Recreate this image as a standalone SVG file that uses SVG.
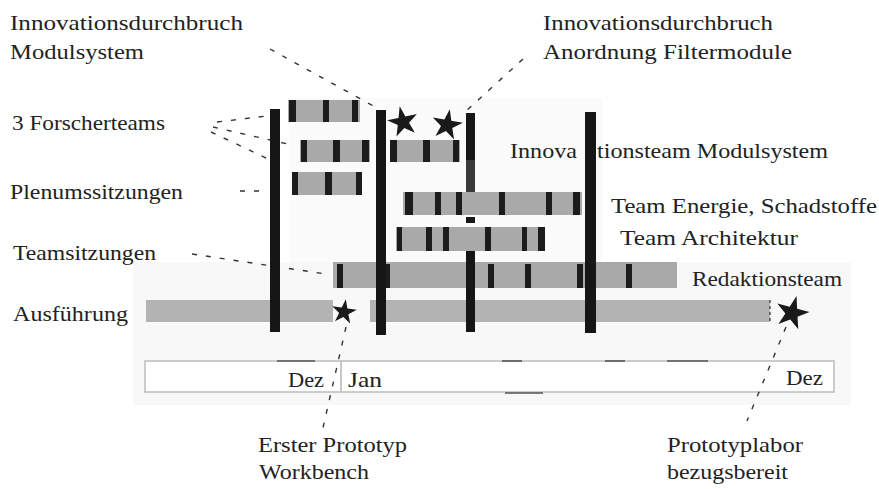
<svg xmlns="http://www.w3.org/2000/svg" xmlns:xlink="http://www.w3.org/1999/xlink" width="879" height="489" viewBox="0 0 879 489">
<style>
  text { font-family: "Liberation Serif", "Times New Roman", serif; font-size: 22px; fill: #222; }
  .row { fill: #a9a9a9; }
  .exec { fill: #b3b3b3; }
  .tick { fill: #1c1c1c; }
  .bar { fill: #161616; }
  .lead { stroke: #333; stroke-width: 1.4; stroke-dasharray: 5 9; fill: none; }
  .star { fill: #1a1a1a; }
  .panel { fill: #f8f8f8; }
  .box { fill: #fff; stroke: #bcbcbc; stroke-width: 1.5; }
  .seg { stroke: #555; stroke-width: 1.6; }
</style>
<defs>
  <polygon id="star" points="0,-10 2.2,-3.1 9.51,-3.09 3.6,1.2 5.88,8.09 0,3.8 -5.88,8.09 -3.6,1.2 -9.51,-3.09 -2.2,-3.1"/>
</defs>
<rect width="879" height="489" fill="#fff"/>
<g id="background">
  <rect x="290" y="98" width="313" height="164" fill="#fbfbfb"/>
  <rect class="panel" x="133" y="262" width="718" height="143"/>
</g>
<g id="timeline">
  <rect class="box" x="145" y="361" width="689" height="31"/>
  <line x1="341" y1="361" x2="341" y2="392" stroke="#c8c8c8" stroke-width="2"/>
  <line class="seg" x1="277" y1="361" x2="315" y2="361"/>
  <line class="seg" x1="502" y1="361" x2="522" y2="361"/>
  <line class="seg" x1="605" y1="361" x2="625" y2="361"/>
  <line class="seg" x1="667" y1="361" x2="708" y2="361"/>
  <line class="seg" x1="505" y1="393" x2="543" y2="393"/>
  <text x="288" y="387" textLength="36" lengthAdjust="spacingAndGlyphs">Dez</text>
  <text x="348" y="387" textLength="34" lengthAdjust="spacingAndGlyphs">Jan</text>
  <text x="786" y="385" textLength="37" lengthAdjust="spacingAndGlyphs">Dez</text>
</g>
<g id="connectors">
  <line class="lead" x1="270" y1="49" x2="377" y2="108"/>
  <line class="lead" x1="523" y1="59" x2="465" y2="112"/>
  <line class="lead" x1="217" y1="122" x2="267" y2="116"/>
  <line class="lead" x1="213" y1="127" x2="292" y2="145"/>
  <line class="lead" x1="211" y1="132" x2="268" y2="159"/>
  <line class="lead" x1="240" y1="191" x2="263" y2="191"/>
  <line class="lead" x1="192" y1="254" x2="326" y2="274"/>
  <line class="lead" x1="346" y1="327" x2="322" y2="432"/>
  <line class="lead" x1="786" y1="327" x2="747" y2="421"/>
</g>
<g id="milestone-bars-back">
  <rect class="bar" x="466" y="113" width="9" height="48"/>
  <rect x="466" y="160" width="9" height="32" fill="#3a3a3a"/>
</g>
<g id="row-forscher-1">
  <rect class="row" x="288" y="100" width="72" height="22"/>
  <rect class="tick" x="289" y="100" width="7" height="22"/>
  <rect class="tick" x="323" y="100" width="6" height="22"/>
  <rect class="tick" x="352" y="100" width="6" height="22"/>
</g>
<g id="row-forscher-2">
  <rect class="row" x="300" y="140" width="70" height="22"/>
  <rect class="tick" x="301" y="140" width="6" height="22"/>
  <rect class="tick" x="333" y="140" width="7" height="22"/>
  <rect class="tick" x="362" y="140" width="7" height="22"/>
</g>
<g id="row-innovationsteam">
  <rect class="row" x="390" y="140" width="70" height="22"/>
  <rect class="tick" x="390" y="140" width="7" height="22"/>
  <rect class="tick" x="423" y="140" width="7" height="22"/>
  <rect class="tick" x="453" y="140" width="6" height="22"/>
</g>
<g id="row-forscher-3">
  <rect class="row" x="292" y="172" width="70" height="23"/>
  <rect class="tick" x="292" y="172" width="6" height="23"/>
  <rect class="tick" x="325" y="172" width="7" height="23"/>
  <rect class="tick" x="356" y="172" width="6" height="23"/>
</g>
<g id="row-energie">
  <rect class="row" x="403" y="192" width="179" height="23"/>
  <rect class="tick" x="405" y="192" width="8" height="23"/>
  <rect class="tick" x="435" y="192" width="6" height="23"/>
  <rect class="tick" x="456" y="192" width="6" height="23"/>
  <rect class="tick" x="499" y="192" width="6" height="23"/>
  <rect class="tick" x="546" y="192" width="6" height="23"/>
  <rect class="tick" x="573" y="192" width="7" height="23"/>
</g>
<g id="row-architektur">
  <rect class="row" x="396" y="227" width="149" height="24"/>
  <rect class="tick" x="397" y="227" width="5" height="24"/>
  <rect class="tick" x="426" y="227" width="6" height="24"/>
  <rect class="tick" x="443" y="227" width="6" height="24"/>
  <rect class="tick" x="485" y="227" width="6" height="24"/>
  <rect class="tick" x="522" y="227" width="5" height="24"/>
  <rect class="tick" x="538" y="227" width="7" height="24"/>
</g>
<g id="row-redaktion">
  <rect class="row" x="333" y="262" width="344" height="26"/>
  <rect class="tick" x="337" y="264" width="6" height="24"/>
  <rect class="tick" x="384" y="264" width="6" height="24"/>
  <rect class="tick" x="488" y="264" width="6" height="24"/>
  <rect class="tick" x="525" y="264" width="6" height="24"/>
  <rect class="tick" x="577" y="264" width="6" height="24"/>
  <rect class="tick" x="626" y="264" width="6" height="24"/>
</g>
<g id="row-ausfuehrung">
  <rect class="exec" x="146" y="300" width="187" height="22"/>
  <rect class="exec" x="370" y="300" width="400" height="22"/>
  <line x1="770" y1="300" x2="770" y2="322" stroke="#333" stroke-width="1.2" stroke-dasharray="3 3"/>
</g>
<g id="milestone-bars">
  <rect class="bar" x="270" y="109" width="10" height="223"/>
  <rect class="bar" x="376" y="110" width="10" height="225"/>
  <rect class="bar" x="466" y="217" width="9" height="6"/>
  <rect class="bar" x="466" y="251" width="9" height="81"/>
  <rect class="bar" x="585" y="112" width="11" height="221"/>
</g>
<g id="stars">
  <use href="#star" class="star" transform="translate(403,122) rotate(-12) scale(1.6)"/>
  <use href="#star" class="star" transform="translate(447,125) rotate(10) scale(1.6)"/>
  <use href="#star" class="star" transform="translate(344,312) rotate(8) scale(1.3)"/>
  <use href="#star" class="star" transform="translate(792,313) rotate(15) scale(1.75)"/>
</g>
<g id="labels-left">
  <text id="lbl-durchbruch-modul" x="10" y="30"><tspan x="10" textLength="233" lengthAdjust="spacingAndGlyphs">Innovationsdurchbruch</tspan><tspan x="10" y="59" textLength="134" lengthAdjust="spacingAndGlyphs">Modulsystem</tspan></text>
  <text id="lbl-forscher" x="12" y="130" textLength="153" lengthAdjust="spacingAndGlyphs">3 Forscherteams</text>
  <text id="lbl-plenum" x="10" y="199" textLength="173" lengthAdjust="spacingAndGlyphs">Plenumssitzungen</text>
  <text id="lbl-teamsitz" x="13" y="260" textLength="143" lengthAdjust="spacingAndGlyphs">Teamsitzungen</text>
  <text id="lbl-ausfuehrung" x="13" y="321" textLength="115" lengthAdjust="spacingAndGlyphs">Ausführung</text>
</g>
<g id="labels-right">
  <text id="lbl-durchbruch-filter" x="543" y="30"><tspan x="543" textLength="230" lengthAdjust="spacingAndGlyphs">Innovationsdurchbruch</tspan><tspan x="543" y="59" textLength="249" lengthAdjust="spacingAndGlyphs">Anordnung Filtermodule</tspan></text>
  <text id="lbl-innoteam" x="510" y="158"><tspan x="510" textLength="67" lengthAdjust="spacingAndGlyphs">Innova</tspan><tspan x="597" textLength="231" lengthAdjust="spacingAndGlyphs">tionsteam Modulsystem</tspan></text>
  <text id="lbl-energie" x="611" y="213" textLength="266" lengthAdjust="spacingAndGlyphs">Team Energie, Schadstoffe</text>
  <text id="lbl-architektur" x="620" y="245" textLength="178" lengthAdjust="spacingAndGlyphs">Team Architektur</text>
  <text id="lbl-redaktion" x="692" y="286" textLength="150" lengthAdjust="spacingAndGlyphs">Redaktionsteam</text>
</g>
<g id="milestone-bar-over-text">
  <rect class="bar" x="585" y="140" width="11" height="22"/>
</g>
<g id="labels-bottom">
  <text id="lbl-prototyp" x="258" y="452"><tspan x="258" textLength="149" lengthAdjust="spacingAndGlyphs">Erster Prototyp</tspan><tspan x="259" y="479" textLength="110" lengthAdjust="spacingAndGlyphs">Workbench</tspan></text>
  <text id="lbl-labor" x="667" y="452"><tspan x="667" textLength="136" lengthAdjust="spacingAndGlyphs">Prototyplabor</tspan><tspan x="667" y="479" textLength="121" lengthAdjust="spacingAndGlyphs">bezugsbereit</tspan></text>
</g>
</svg>
